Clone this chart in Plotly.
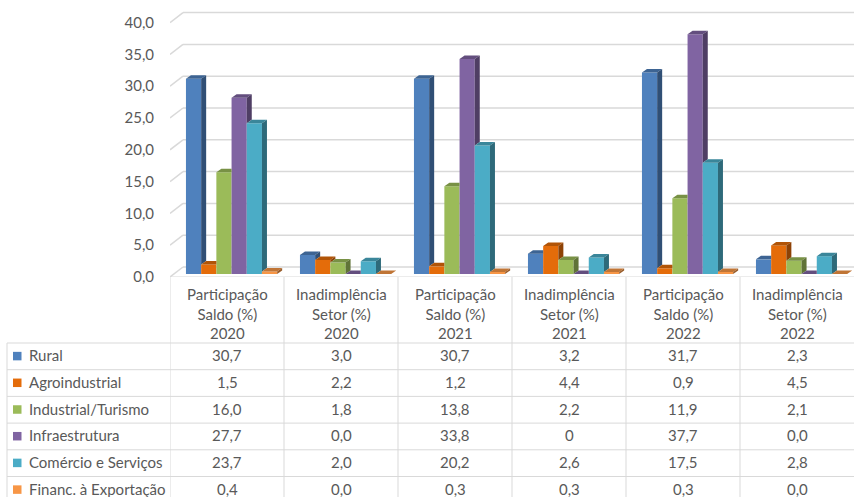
import plotly.graph_objects as go

# ---------------- data ----------------
categories = [
    "Participação<br>Saldo (%)<br>2020",
    "Inadimplência<br>Setor (%)<br>2020",
    "Participação<br>Saldo (%)<br>2021",
    "Inadimplência<br>Setor (%)<br>2021",
    "Participação<br>Saldo (%)<br>2022",
    "Inadimplência<br>Setor (%)<br>2022",
]
series_names = ["Rural", "Agroindustrial", "Industrial/Turismo", "Infraestrutura",
                "Comércio e Serviços", "Financ. à Exportação"]
rural = [30.7, 3.0, 30.7, 3.2, 31.7, 2.3]
agroindustrial = [1.5, 2.2, 1.2, 4.4, 0.9, 4.5]
industrial = [16.0, 1.8, 13.8, 2.2, 11.9, 2.1]
infraestrutura = [27.7, 0.0, 33.8, 0, 37.7, 0.0]
comercio = [23.7, 2.0, 20.2, 2.6, 17.5, 2.8]
financ = [0.4, 0.0, 0.3, 0.3, 0.3, 0.0]
series_values = [rural, agroindustrial, industrial, infraestrutura, comercio, financ]
y_ticks = [0, 5, 10, 15, 20, 25, 30, 35, 40]

colors = ["#4F81BD", "#E46C0A", "#9BBB59", "#8064A2", "#4BACC6", "#F79646"]

# ---------------- geometry (layout) ----------------
W, H = 854, 497
ML, MR, MT, MB = 170, 0, 5, 220
PLOT_W = W - ML - MR
PLOT_H = H - MT - MB
PX_X = PLOT_W / 6.0          # px per category unit
PX_Y = 6.36                  # px per value unit
Y_TOP = PLOT_H / PX_Y

BAR_W = 15.2 / PX_X
BAR_OFF0 = -0.36
BASE = 3.0 / PX_Y
DX = 5.0 / PX_X
DY = 3.5 / PX_Y
BACK_X = 13.0 / PX_X
BACK_Y = 10.0 / PX_Y

TEXT = "#595959"
GRID = "#D9D9D9"
FONT = "Lato"
FS = 15


def shade(hexc, f):
    h = hexc.lstrip("#")
    r, g, b = (int(h[i:i + 2], 16) for i in (0, 2, 4))
    return "rgb(%d,%d,%d)" % (r * f, g * f, b * f)


def fmt(v):
    if isinstance(v, int):
        return str(v)
    return ("%.1f" % v).replace(".", ",")


def py(px):
    return (MT + PLOT_H - px) / PLOT_H


def pxx(px):
    return (px - ML) / PLOT_W


fig = go.Figure()

# front faces
for k, (name, vals) in enumerate(zip(series_names, series_values)):
    fig.add_trace(go.Bar(
        x=list(range(len(categories))), y=vals, base=BASE,
        width=BAR_W, offset=BAR_OFF0 + k * BAR_W,
        marker=dict(color=colors[k], line=dict(width=0)),
        name=name, showlegend=False, hoverinfo="skip",
    ))

# 3D top and side faces (clipped where the next bar's front hides them)
for k, vals in enumerate(series_values):
    tx, ty, sx, sy = [], [], [], []
    for i, v in enumerate(vals):
        xl = i + BAR_OFF0 + k * BAR_W
        xr = xl + BAR_W
        t = BASE + v
        nxt = BASE + series_values[k + 1][i] if k + 1 < len(series_values) else None
        # top face
        if nxt is None or nxt <= t:
            tx += [xl, xl + DX, xr + DX, xr, xl, None]
            ty += [t, t + DY, t + DY, t, t, None]
        else:
            cut = min(nxt, t + DY)
            tx += [xl, xl + DX, xr + DX * (t + DY - cut) / DY, xr, xr, xl, None]
            ty += [t, t + DY, t + DY, cut, t, t, None]
        # side face
        lo = BASE if nxt is None else nxt
        if t > lo:
            sx += [xr, xr + DX, xr + DX, xr, xr, None]
            sy += [lo, lo + DY, t + DY, t, lo, None]
    fig.add_trace(go.Scatter(x=tx, y=ty, mode="lines", fill="toself",
                             fillcolor=shade(colors[k], 0.78), line=dict(width=0),
                             showlegend=False, hoverinfo="skip"))
    if sx:
        fig.add_trace(go.Scatter(x=sx, y=sy, mode="lines", fill="toself",
                                 fillcolor=shade(colors[k], 0.62), line=dict(width=0),
                                 showlegend=False, hoverinfo="skip"))

shapes = []
# back-wall gridlines with the slanted left part
for v in y_ticks:
    shapes.append(dict(type="line", xref="x", yref="y", layer="below",
                       x0=-0.5, y0=v, x1=-0.5 + BACK_X, y1=v + BACK_Y,
                       line=dict(color=GRID, width=1.5)))
    shapes.append(dict(type="line", xref="x", yref="y", layer="below",
                       x0=-0.5 + BACK_X, y0=v + BACK_Y, x1=5.5, y1=v + BACK_Y,
                       line=dict(color=GRID, width=1.5)))
# floor front edge
shapes.append(dict(type="line", xref="x", yref="y", x0=-0.5, x1=5.5, y0=0, y1=0,
                   line=dict(color=GRID, width=1.2)))

# data table grid
ROW_TOP = 343
ROW_H = 26.7
TABLE_LEFT = 7
for i in range(len(categories)):
    shapes.append(dict(type="line", xref="x", yref="paper", x0=i - 0.5, x1=i - 0.5,
                       y0=py(277), y1=py(H), line=dict(color=GRID, width=1)))
shapes.append(dict(type="line", xref="paper", yref="paper",
                   x0=pxx(TABLE_LEFT), x1=pxx(TABLE_LEFT),
                   y0=py(ROW_TOP), y1=py(H), line=dict(color=GRID, width=1)))
for r in range(len(series_names)):
    yy = py(ROW_TOP + r * ROW_H)
    shapes.append(dict(type="line", xref="paper", yref="paper",
                       x0=pxx(TABLE_LEFT), x1=1, y0=yy, y1=yy,
                       line=dict(color=GRID, width=1)))
# legend keys
for r in range(len(series_names)):
    yc = ROW_TOP + r * ROW_H + ROW_H / 2 - 0.5
    shapes.append(dict(type="rect", xref="paper", yref="paper",
                       x0=pxx(13), x1=pxx(21.5), y0=py(yc + 4.5), y1=py(yc - 4),
                       fillcolor=colors[r], line=dict(width=0)))

annotations = []
for i, cat in enumerate(categories):
    annotations.append(dict(xref="x", yref="paper", x=i, y=py(313), text=cat,
                            showarrow=False, xanchor="center", yanchor="middle",
                            align="center", font=dict(family=FONT, size=FS, color=TEXT)))
for r, (name, vals) in enumerate(zip(series_names, series_values)):
    yc = ROW_TOP + r * ROW_H + ROW_H / 2 - 1.2
    annotations.append(dict(xref="paper", yref="paper", x=pxx(27), y=py(yc),
                            text=name, showarrow=False, xanchor="left", yanchor="middle",
                            font=dict(family=FONT, size=FS, color=TEXT)))
    for i, v in enumerate(vals):
        annotations.append(dict(xref="x", yref="paper", x=i, y=py(yc), text=fmt(v),
                                showarrow=False, xanchor="center", yanchor="middle",
                                font=dict(family=FONT, size=FS, color=TEXT)))

fig.update_layout(
    width=W, height=H,
    margin=dict(l=ML, r=MR, t=MT, b=MB, pad=0),
    paper_bgcolor="white", plot_bgcolor="white",
    barmode="overlay",
    separators=",.",
    shapes=shapes, annotations=annotations,
    xaxis=dict(range=[-0.5, 5.5], showticklabels=False, showgrid=False,
               zeroline=False, showline=False, ticks=""),
    yaxis=dict(range=[0, Y_TOP], tickvals=y_ticks, tickformat=".1f",
               showgrid=False, zeroline=False, showline=False, ticks="",
               ticklabelstandoff=15,
               tickfont=dict(family=FONT, size=FS, color=TEXT)),
    showlegend=False,
)

fig.write_html("out.html")
